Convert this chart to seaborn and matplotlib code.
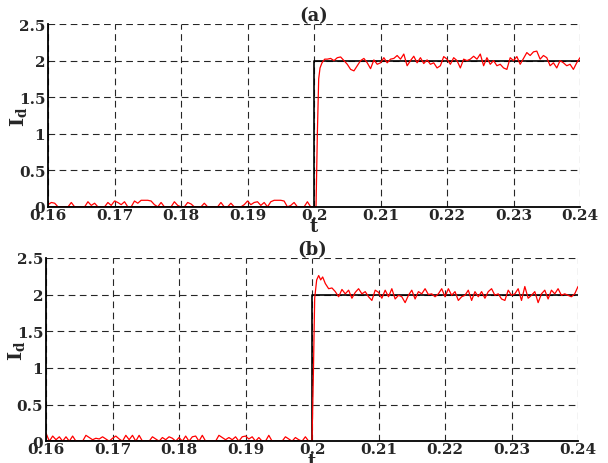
import numpy as np
import matplotlib
matplotlib.use("Agg")
import matplotlib.pyplot as plt
import seaborn as sns

# reference step (black)
t_ref = [0.16, 0.2, 0.2, 0.24]
i_ref = [0.0, 0.0, 2.0, 2.0]

# (a) measured current, before the step (0.16 .. 0.1995, every 0.0005)
pre_a = [0.03, 0.06, 0.05, 0, 0, 0, 0, 0.06, 0, 0,
         0, 0, 0.07, 0.02, 0.05, 0, 0, 0, 0.06, 0.02,
         0.08, 0.06, 0.03, 0.07, 0, 0, 0.08, 0.05, 0.09, 0.09,
         0.09, 0.08, 0.03, 0, 0.06, 0, 0, 0, 0.07, 0.02,
         0, 0, 0.06, 0.04, 0, 0, 0, 0.05, 0, 0,
         0, 0, 0.06, 0, 0, 0.05, 0, 0, 0, 0.03,
         0.08, 0.03, 0.06, 0.07, 0.02, 0.06, 0, 0.07, 0.09, 0.09,
         0.09, 0.08, 0, 0.02, 0.06, 0, 0, 0, 0.07, 0]
# (a) rise
rise_t_a = [0.2000, 0.2003, 0.2005, 0.2007, 0.2009, 0.2012, 0.2016]
rise_a = [0.0, 0.0, 1.0, 1.75, 1.9, 1.97, 2.02]
# (a) after the step (0.202 .. 0.24, every 0.0005)
post_a = [2.02, 2.03, 2.00, 2.04, 2.05, 2.00, 1.95, 1.88, 1.86, 1.93,
          2.00, 2.03, 1.97, 1.89, 2.01, 1.95, 1.97, 2.04, 1.97, 2.02,
          2.03, 2.07, 2.02, 2.09, 1.93, 2.00, 2.06, 1.97, 2.04, 1.96,
          2.01, 1.95, 1.97, 1.90, 1.93, 2.055, 2.02, 1.95, 2.04, 2.00,
          1.90, 2.02, 2.00, 2.02, 2.06, 2.02, 2.09, 1.93, 2.04, 1.95,
          2.00, 1.93, 1.95, 1.90, 1.88, 2.04, 2.00, 2.055, 1.95, 2.03,
          2.11, 2.07, 2.12, 2.13, 2.02, 2.07, 2.04, 1.93, 1.97, 1.90,
          2.00, 1.97, 1.93, 1.95, 1.88, 1.97, 2.04]

# (b) measured current
pre_b = [0.11, 0, 0.07, 0.02, 0.06, 0, 0.06, 0, 0.07, 0,
         0, 0, 0.08, 0.05, 0.02, 0.04, 0.03, 0.06, 0.03, 0,
         0.04, 0.07, 0.03, 0, 0.08, 0.02, 0.08, 0, 0.08, 0,
         0, 0, 0.06, 0.03, 0, 0.05, 0.02, 0.06, 0.04, 0,
         0.05, 0, 0.07, 0, 0.06, 0.07, 0, 0.08, 0, 0,
         0, 0, 0.08, 0.05, 0.02, 0.05, 0.02, 0.06, 0, 0.06,
         0.07, 0.03, 0.06, 0, 0.05, 0, 0, 0.08, 0, 0,
         0, 0, 0.06, 0.03, 0, 0.05, 0.02, 0, 0.06, 0]
rise_t_b = [0.2000, 0.2002, 0.2004, 0.2007, 0.2010, 0.2013, 0.2016]
rise_b = [0.0, 0.9, 1.95, 2.2, 2.26, 2.2, 2.24]
post_b = [2.15, 2.08, 2.09, 2.04, 1.97, 2.07, 2.01, 2.06, 1.95, 2.03,
          2.08, 2.01, 2.04, 1.97, 1.92, 2.06, 2.03, 1.95, 2.06, 1.97,
          2.08, 1.94, 1.99, 1.97, 1.89, 1.99, 2.06, 1.94, 2.04, 2.01,
          2.08, 2.00, 2.01, 1.97, 2.01, 2.08, 1.97, 2.08, 1.99, 2.04,
          1.92, 1.97, 1.99, 2.06, 1.92, 2.04, 1.97, 2.04, 1.95, 2.04,
          2.08, 1.99, 2.01, 1.94, 1.92, 2.06, 1.99, 2.01, 2.08, 1.92,
          2.11, 1.95, 1.99, 2.04, 1.89, 2.01, 2.06, 1.94, 2.06, 2.01,
          2.08, 1.99, 2.01, 1.99, 1.97, 2.01, 2.11]

x_ticks = [0.16, 0.17, 0.18, 0.19, 0.2, 0.21, 0.22, 0.23, 0.24]
x_ticklabels = ["0.16", "0.17", "0.18", "0.19", "0.2", "0.21", "0.22", "0.23", "0.24"]
y_ticks = [0, 0.5, 1, 1.5, 2, 2.5]
y_ticklabels = ["0", "0.5", "1", "1.5", "2", "2.5"]


def build(pre, rise_t, rise, post):
    t = np.concatenate([0.16 + 0.0005 * np.arange(len(pre)), rise_t,
                        0.202 + 0.0005 * np.arange(len(post))])
    y = np.concatenate([pre, rise, post])
    return t, y


sns.set_style("white")
plt.rcParams["font.family"] = ["DejaVu Serif"]
plt.rcParams["mathtext.fontset"] = "dejavuserif"

fig = plt.figure(figsize=(6.08, 4.64), dpi=100)
ax_a = fig.add_axes([0.079, 0.552, 0.875, 0.394])
ax_b = fig.add_axes([0.0757, 0.047, 0.875, 0.395])

panels = [(ax_a, "(a)", build(pre_a, rise_t_a, rise_a, post_a)),
          (ax_b, "(b)", build(pre_b, rise_t_b, rise_b, post_b))]

for ax, title, (t, y) in panels:
    sns.lineplot(x=t_ref, y=i_ref, ax=ax, color="black", lw=1.2,
                 estimator=None, sort=False)
    sns.lineplot(x=t, y=y, ax=ax, color="red", lw=0.9,
                 estimator=None, sort=False)
    ax.set_xlim(0.16, 0.24)
    ax.set_ylim(0, 2.5)
    ax.set_xticks(x_ticks)
    ax.set_xticklabels(x_ticklabels)
    ax.set_yticks(y_ticks)
    ax.set_yticklabels(y_ticklabels)
    ax.grid(True, color="0.15", lw=0.8, linestyle=(0, (6, 4)))
    ax.set_axisbelow(True)
    for s in ["top", "right"]:
        ax.spines[s].set_visible(False)
    for s in ["left", "bottom"]:
        ax.spines[s].set_color("black")
        ax.spines[s].set_linewidth(1.3)
    ax.tick_params(axis="both", length=0, labelsize=11)
    ax.tick_params(axis="x", pad=0.5)
    ax.tick_params(axis="y", pad=2)
    for lab in ax.get_xticklabels() + ax.get_yticklabels():
        lab.set_fontweight("bold")
    ax.set_title(title, fontsize=13, fontweight="bold", pad=3)
    ax.set_xlabel("t", fontsize=13, fontweight="bold", labelpad=-3)
    ax.set_ylabel(r"$\mathbf{I_d}$", fontsize=14)
    ax.yaxis.set_label_coords(-0.035, 0.5)

fig.savefig("out.png", dpi=100)
